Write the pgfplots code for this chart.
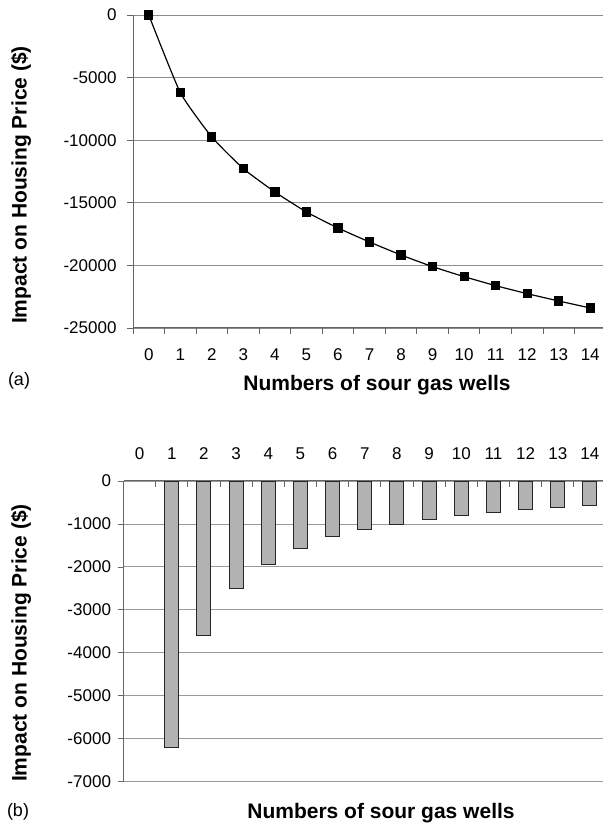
\documentclass[border=0pt]{standalone}
\usepackage{fontspec}
\setmainfont{Liberation Sans}
\usepackage{pgfplots}
\pgfplotsset{compat=1.18}
\begin{document}
\begin{tikzpicture}[x=1pt,y=1pt]
\path[use as bounding box] (0,0) rectangle (602,824);
% ---------- panel (a)
\begin{axis}[
  at={(133pt,496pt)}, anchor=south west, scale only axis,
  width=473pt, height=313pt,
  xmin=-0.5, xmax=14.5, ymin=-25000, ymax=0,
  axis x line*=bottom, axis y line*=left,
  axis line style={draw=black!60, line width=1pt, -},
  xtick={0,...,14}, major x tick style={draw=none},
  minor xtick={-0.5,0.5,...,14.5},
  ytick={-25000,-20000,...,0},
  scaled y ticks=false,
  tick align=outside, major tick length=6pt, minor tick length=6pt,
  tick style={black!60, line width=0.8pt},
  ymajorgrids, grid style={black!45, line width=0.9pt},
  ticklabel style={font=\fontsize{17}{20}\selectfont},
  xticklabel style={yshift=-11pt},
  yticklabel style={xshift=-7pt},
  /pgf/number format/assume math mode=true,
  /pgf/number format/1000 sep={},
  clip=false,
]
\addplot[black, line width=1.2pt, mark=square*, mark size=4pt, smooth, tension=0.3] coordinates {
(0,0) (1,-6200) (2,-9744) (3,-12274) (4,-14137) (5,-15735) (6,-17013) (7,-18131)
(8,-19169) (9,-20101) (10,-20900) (11,-21619) (12,-22258) (13,-22843) (14,-23402)};
\end{axis}
% ---------- panel (b)
\begin{axis}[
  at={(123.5pt,42.3pt)}, anchor=south west, scale only axis,
  width=482.5pt, height=300.7pt,
  xmin=-0.5, xmax=14.5, ymin=-7000, ymax=0,
  axis x line*=top, axis y line*=left,
  axis line style={draw=black!60, line width=1pt, -},
  xtick={0,...,14}, major x tick style={draw=none},
  minor xtick={-0.5,0.5,...,14.5},
  minor x tick style={yshift=-6pt},
  ytick={-7000,-6000,...,0},
  scaled y ticks=false,
  tick align=outside, major tick length=6pt, minor tick length=6pt,
  tick style={black!60, line width=0.8pt},
  ymajorgrids, grid style={black!40, line width=0.9pt},
  ticklabel style={font=\fontsize{17}{20}\selectfont},
  xticklabel style={yshift=12pt},
  yticklabel style={xshift=-3pt},
  /pgf/number format/assume math mode=true,
  /pgf/number format/1000 sep={},
  clip=false,
]
\addplot[ybar, bar width=14pt, fill=black!30, draw=black!85, line width=0.9pt] coordinates {
(1,-6200) (2,-3590) (3,-2510) (4,-1935) (5,-1570) (6,-1298) (7,-1134)
(8,-1010) (9,-901) (10,-800) (11,-738) (12,-668) (13,-606) (14,-567)};
\end{axis}
% ---------- texts
\node[font=\fontsize{18}{21}\selectfont] at (19,443) {(a)};
\node[font=\bfseries\fontsize{21}{25}\selectfont] at (377,439) {Numbers of sour gas wells};
\node[font=\bfseries\fontsize{21}{25}\selectfont, rotate=90] at (21,639) {Impact on Housing Price (\$)};
\node[font=\fontsize{18}{21}\selectfont] at (18,12) {(b)};
\node[font=\bfseries\fontsize{21}{25}\selectfont] at (381,11) {Numbers of sour gas wells};
\node[font=\bfseries\fontsize{21}{25}\selectfont, rotate=90] at (21,181) {Impact on Housing Price (\$)};
\end{tikzpicture}
\end{document}
